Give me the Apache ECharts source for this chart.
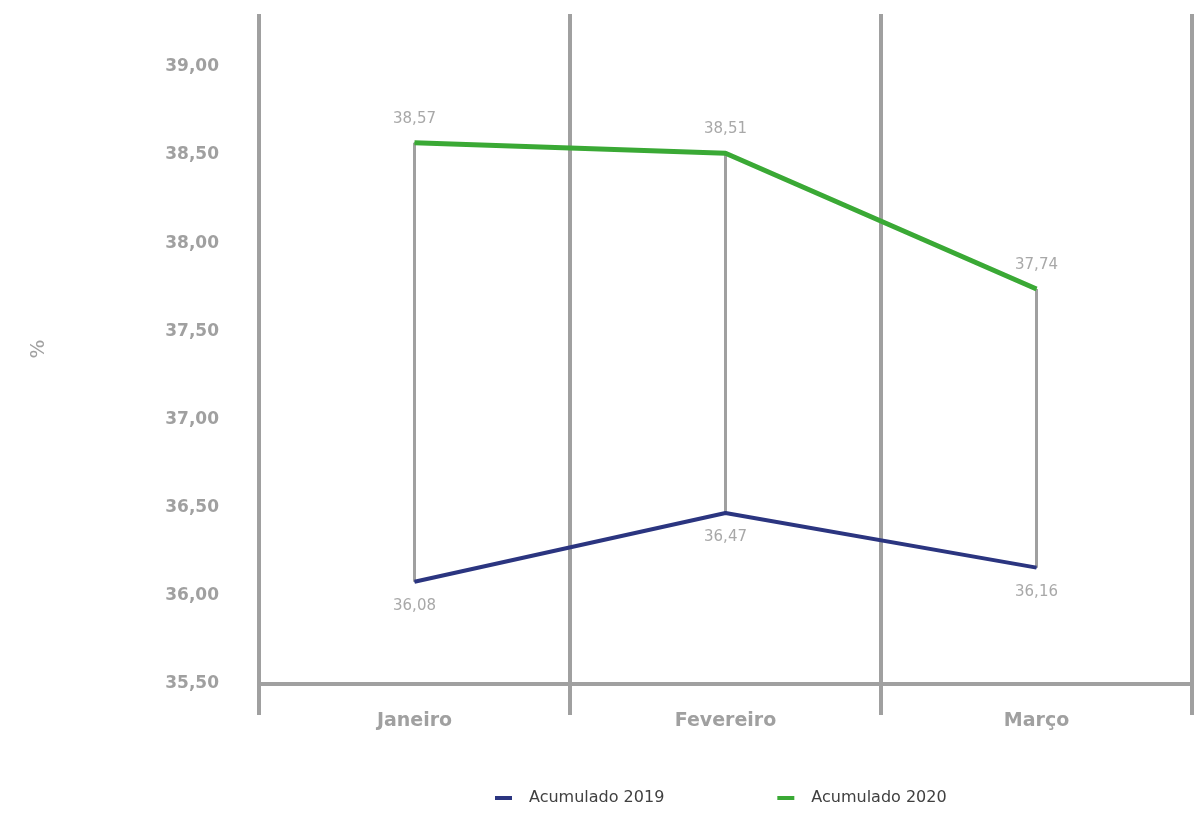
<!DOCTYPE html>
<html>
<head>
<meta charset="utf-8">
<script src="https://cdn.jsdelivr.net/npm/echarts@6/dist/echarts.min.js"></script>
<style>
  html, body { margin: 0; padding: 0; background: #ffffff; }
  #chart { width: 1195px; height: 814px; }
</style>
</head>
<body>
<div id="chart"></div>
<script>
// Monthly accumulated percentages, 2019 vs 2020
const months = ['Janeiro', 'Fevereiro', 'Março'];
const acum2019 = [36.08, 36.47, 36.16];
const acum2020 = [38.57, 38.51, 37.74];
const seriesNames = ['Acumulado 2019', 'Acumulado 2020'];

const GRAY = '#a0a0a0';
const LABEL_GRAY = '#a8a8a8';
const BLUE = '#2b3580';
const GREEN = '#3aa935';
const FONT = '"DejaVu Sans", sans-serif';

const fmt = v => v.toFixed(2).replace('.', ',');

// high-low connector pairs, one per month
const spans = months.map((m, i) => [i, acum2019[i], acum2020[i]]);

const chart = echarts.init(document.getElementById('chart'));
chart.setOption({
  backgroundColor: '#ffffff',
  animation: false,
  grid: { left: 259, right: 3, top: 14, bottom: 130 },
  legend: {
    data: seriesNames,
    left: 490,
    bottom: 3,
    icon: 'rect',
    itemWidth: 17,
    itemHeight: 4,
    itemGap: 113,
    textStyle: { fontFamily: FONT, fontSize: 16, color: '#404040', padding: [0, 0, 0, 12] }
  },
  xAxis: {
    type: 'category',
    data: months,
    boundaryGap: true,
    axisLine: { show: true, lineStyle: { color: GRAY, width: 4 } },
    axisTick: { show: true, length: 31, lineStyle: { color: GRAY, width: 4 } },
    splitLine: { show: true, lineStyle: { color: GRAY, width: 4 } },
    axisLabel: { margin: 28, fontFamily: FONT, fontSize: 19, fontWeight: 'bold', color: GRAY }
  },
  yAxis: {
    type: 'value',
    min: 35.5,
    max: 39.3,
    interval: 0.5,
    name: '%',
    nameLocation: 'middle',
    nameGap: 210,
    nameRotate: 90,
    nameTextStyle: { fontFamily: FONT, fontSize: 20, color: GRAY },
    axisLine: { show: false },
    axisTick: { show: false },
    splitLine: { show: false },
    axisLabel: {
      margin: 40,
      showMaxLabel: false,
      fontFamily: FONT, fontSize: 17, fontWeight: 'bold', color: GRAY,
      formatter: v => (Math.abs(v * 2 - Math.round(v * 2)) < 1e-6 ? fmt(v) : '')
    }
  },
  series: [
    {
      type: 'custom',
      silent: true,
      z: 1,
      data: spans,
      renderItem: (params, api) => {
        const lo = api.coord([api.value(0), api.value(1)]);
        const hi = api.coord([api.value(0), api.value(2)]);
        return {
          type: 'line',
          shape: { x1: lo[0], y1: lo[1], x2: hi[0], y2: hi[1] },
          style: { stroke: GRAY, lineWidth: 3 }
        };
      }
    },
    {
      name: seriesNames[0],
      type: 'line',
      data: acum2019,
      z: 3,
      symbol: 'circle',
      symbolSize: 1,
      lineStyle: { color: BLUE, width: 4 },
      itemStyle: { color: BLUE },
      label: {
        show: true, position: 'bottom', distance: 16,
        fontFamily: FONT, fontSize: 15, color: LABEL_GRAY,
        formatter: p => fmt(p.value)
      }
    },
    {
      name: seriesNames[1],
      type: 'line',
      data: acum2020,
      z: 3,
      symbol: 'circle',
      symbolSize: 1,
      lineStyle: { color: GREEN, width: 5 },
      itemStyle: { color: GREEN },
      label: {
        show: true, position: 'top', distance: 16,
        fontFamily: FONT, fontSize: 15, color: LABEL_GRAY,
        formatter: p => fmt(p.value)
      }
    }
  ]
});
</script>
</body>
</html>
